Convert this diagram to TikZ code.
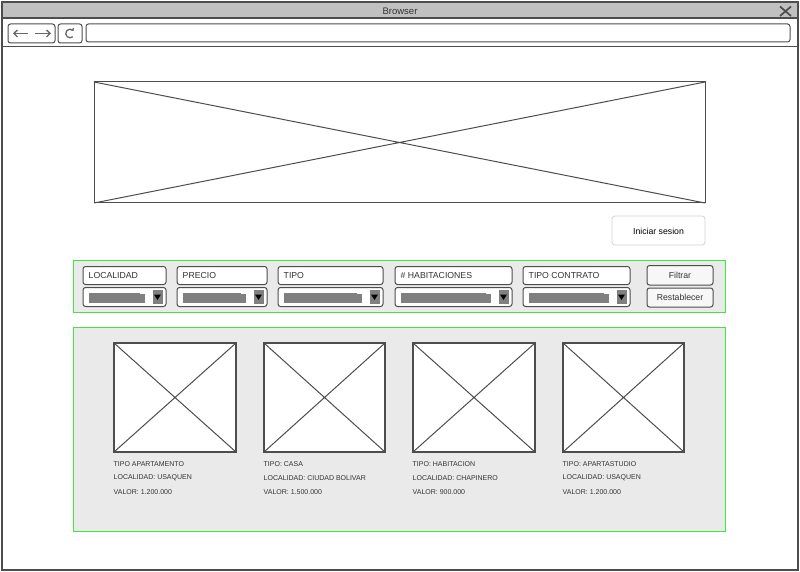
\documentclass[tikz,border=0pt]{standalone}
\usepackage{fontspec}
\setmainfont{Liberation Sans}
\usetikzlibrary{arrows.meta}
\definecolor{frame}{HTML}{4D4D4D}
\definecolor{barfill}{HTML}{C0C0C0}
\definecolor{panel}{HTML}{EAEAEA}
\definecolor{grn}{HTML}{3BE83B}
\definecolor{txt}{HTML}{333333}
\definecolor{ddgray}{HTML}{808080}
\tikzset{
  fieldbox/.style={draw=frame, line width=1, rounded corners=2.5, fill=white},
  lbl/.style={font=\fontsize{8.7}{9}\selectfont, text=txt, inner sep=0pt, anchor=west},
  btnlbl/.style={font=\fontsize{8.7}{9}\selectfont, text=txt, inner sep=0pt},
  cardtxt/.style={font=\fontsize{7}{8}\selectfont, text=txt, inner sep=0pt, anchor=west},
  imgbox/.style={draw=frame, line width=1.2, fill=white},
  panelbox/.style={draw=grn, line width=1, fill=panel}
}
\begin{document}
\begin{tikzpicture}[x=1pt,y=-1pt]
\useasboundingbox (0,0) rectangle (800,572);
\fill[white] (0,0) rectangle (800,572);
% window frame
\fill[barfill] (2,2) rectangle (798,18);
\draw[frame, line width=2] (2,2) rectangle (798,570);
\draw[frame, line width=1.8] (2,18) -- (798,18);
\draw[frame, line width=1.8] (2,46.5) -- (798,46.5);
\node[font=\fontsize{9.5}{10}\selectfont, text=txt, inner sep=0pt] (title) at (400,11) {Browser};
\draw[frame, line width=1.7] (780,6.5) -- (791,16) (791,6.5) -- (780,16);
% navigation buttons
\draw[fieldbox] (8,24) rectangle (55,43);
\draw[frame!85, line width=1.4, -{Straight Barb[length=3.5pt,width=7pt]}] (28,33.5) -- (13,33.5);
\draw[frame!85, line width=1.4, -{Straight Barb[length=3.5pt,width=7pt]}] (35,33.5) -- (51,33.5);
\draw[fieldbox] (58,24) rectangle (82,43);
\draw[frame!85, line width=1.3] (72.8,30.2) arc[start angle=-50, end angle=-310, radius=4.3];
\draw[frame!85, line width=1.2] (70.8,29.6) -- (73,30.2) -- (73.4,28);
\draw[fieldbox] (86,24) rectangle (790,42);
% hero image
\draw[frame, line width=1] (94,82) rectangle (705,203);
\draw[frame, line width=1] (94,82) -- (705,203) (94,203) -- (705,82);
% login
\draw[draw=gray!35, fill=white, line width=0.8, rounded corners=3] (612,216) rectangle (705,245);
\node[btnlbl, text=black] (login) at (658.5,231.5) {Iniciar sesion};
% filter panel
\draw[panelbox] (73,260) rectangle (725,312);
\foreach \xa/\xb/\lab [count=\i] in {83/166/LOCALIDAD, 177/267/PRECIO, 278/383/TIPO, 395/512/{\# HABITACIONES}, 523/630/{TIPO CONTRATO}} {
  \draw[fieldbox] (\xa,266.5) rectangle (\xb,284.5);
  \node[lbl] (lab\i) at (\xa+5.5,275.5) {\lab};
  \draw[fieldbox] (\xa,287.5) rectangle (\xb,306.5);
  \fill[ddgray] (\xa+6,292.5) rectangle (\xb-26,302.5);
  \fill[ddgray] (\xb-26.5,294) rectangle (\xb-21,302.5);
  \fill[ddgray] (\xb-13.5,290) rectangle (\xb-3.5,304);
  \fill[black] (\xb-12,294.5) -- (\xb-5,294.5) -- (\xb-8.5,300) -- cycle;
}
\draw[fieldbox, fill=gray!6] (647,265.5) rectangle (713,285);
\node[btnlbl] (filtrar) at (680,275.5) {Filtrar};
\draw[fieldbox, fill=gray!6] (647,288) rectangle (713,307);
\node[btnlbl] (restab) at (680,297.5) {Restablecer};
% products panel
\draw[panelbox] (73,327) rectangle (725,531);
\foreach \xa/\xb/\ta/\tb/\tc [count=\i] in {
  114/236/{TIPO APARTAMENTO}/{LOCALIDAD: USAQUEN}/{VALOR: 1.200.000},
  264/385/{TIPO: CASA}/{LOCALIDAD: CIUDAD BOLIVAR}/{VALOR: 1.500.000},
  413/535/{TIPO: HABITACION}/{LOCALIDAD: CHAPINERO}/{VALOR: 900.000},
  563/684/{TIPO: APARTASTUDIO}/{LOCALIDAD: USAQUEN}/{VALOR: 1.200.000}} {
  \draw[imgbox] (\xa,343) rectangle (\xb,452);
  \draw[frame, line width=1] (\xa,343) -- (\xb,452) (\xa,452) -- (\xb,343);
  \node[cardtxt] (ta\i) at (\xa-0.5,464) {\ta};
  \node[cardtxt] (tb\i) at (\xa-0.5,478) {\tb};
  \node[cardtxt] (tc\i) at (\xa-0.5,492.5) {\tc};
}
\end{tikzpicture}
\end{document}
